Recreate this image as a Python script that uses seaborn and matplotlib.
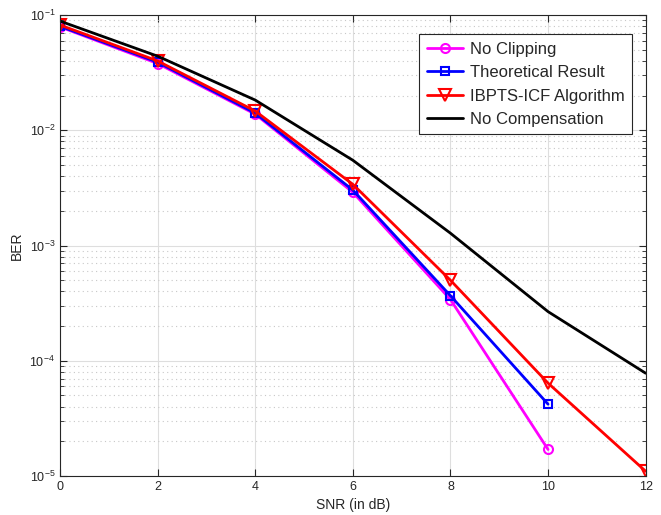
import seaborn as sns
import matplotlib.pyplot as plt
import pandas as pd
from matplotlib.ticker import LogLocator, NullFormatter

sns.set_style("ticks")
plt.rcParams['font.family'] = ['Liberation Sans', 'DejaVu Sans']

snr = [0, 2, 4, 6, 8, 10, 12]
no_clip = [0.079, 0.038, 0.0138, 0.0029, 3.4e-4, 1.7e-5]
theory = [0.080, 0.039, 0.0141, 0.00303, 3.67e-4, 4.2e-5]
ibpts = [0.082, 0.040, 0.0147, 0.0034, 5.0e-4, 6.4e-5, 1.1e-5]
no_comp = [0.0887, 0.044, 0.0183, 0.0055, 1.28e-3, 2.67e-4, 7.8e-5]

series = [
    ("No Clipping", no_clip, "#ff00ff", "o", 6.5),
    ("Theoretical Result", theory, "#0000ff", "s", 6),
    ("IBPTS-ICF Algorithm", ibpts, "#ff0000", "v", 8),
    ("No Compensation", no_comp, "#000000", None, 0),
]

fig = plt.figure(figsize=(6.61, 5.15), dpi=100)
ax = fig.add_axes([0.0908, 0.0757, 0.886, 0.895])

for name, vals, col, mk, ms in series:
    df = pd.DataFrame({"SNR": snr[:len(vals)], "BER": vals})
    kw = dict(marker=mk, markersize=ms, markerfacecolor="none",
              markeredgecolor=col, markeredgewidth=1.5) if mk else {}
    sns.lineplot(data=df, x="SNR", y="BER", color=col, lw=2, label=name,
                 ax=ax, **kw)

ax.set_yscale("log")
ax.set_xlim(0, 12)
ax.set_ylim(1e-5, 1e-1)
ax.set_xticks(snr)
ax.yaxis.set_minor_locator(LogLocator(base=10, subs=range(2, 10)))
ax.yaxis.set_minor_formatter(NullFormatter())
ax.grid(True, which="major", color="#dedede", lw=0.8, ls="-")
ax.grid(True, which="minor", axis="y", color="#c8c8c8", lw=0.8, ls=(0, (1, 3)))
ax.tick_params(which="both", direction="in", top=True, right=True,
               labelsize=9, colors="#262626")
ax.tick_params(which="major", length=5)
ax.tick_params(which="minor", length=3)
for s in ax.spines.values():
    s.set_color("#262626")
    s.set_linewidth(0.8)
ax.set_xlabel("SNR (in dB)", fontsize=10, color="#262626")
ax.set_ylabel("BER", fontsize=10, color="#262626")

leg = ax.legend(loc="upper right", bbox_to_anchor=(0.977, 0.958), fontsize=12,
                frameon=True, fancybox=False, framealpha=1, edgecolor="#262626",
                handlelength=2.2, borderpad=0.45, labelspacing=0.5,
                handletextpad=0.4, borderaxespad=0)
leg.get_frame().set_linewidth(0.8)

fig.savefig("out.png", dpi=100)
